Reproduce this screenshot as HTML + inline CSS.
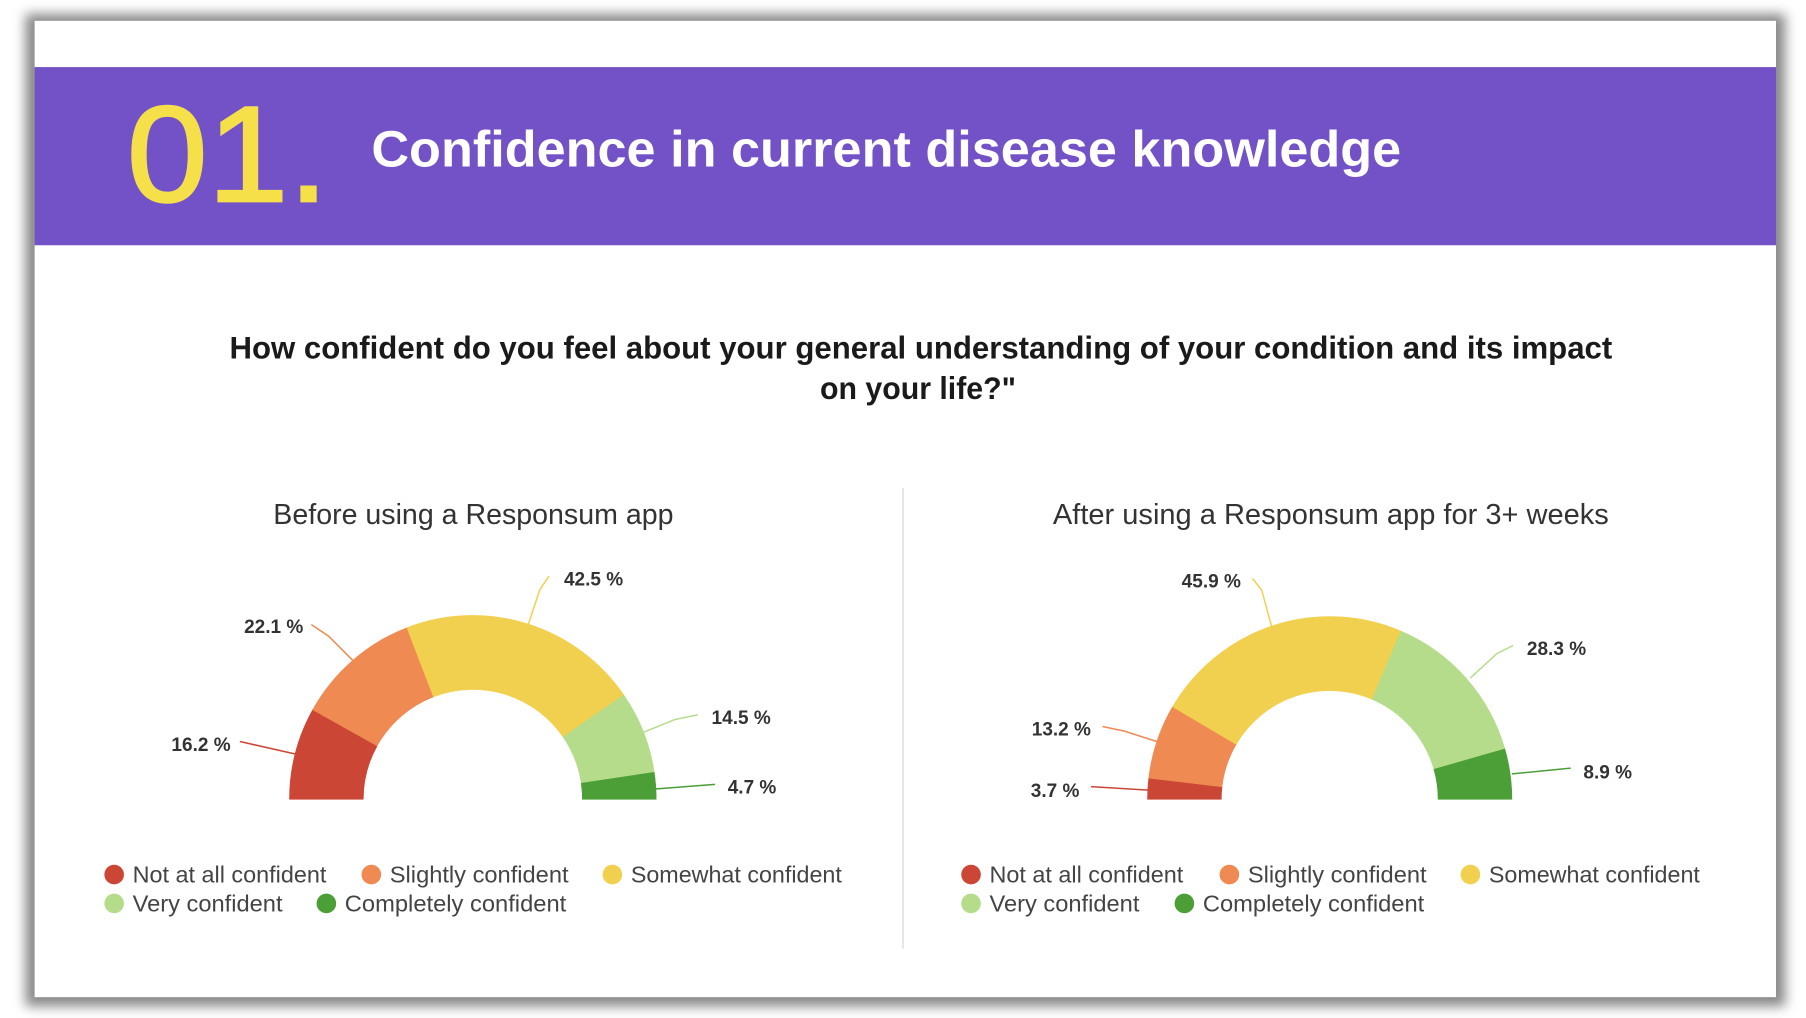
<!DOCTYPE html>
<html><head><meta charset="utf-8"><style>
html,body{margin:0;padding:0;background:#fff;width:1806px;height:1018px;overflow:hidden}
svg{display:block}
text{font-family:"Liberation Sans",sans-serif}
</style></head><body>
<svg id="s" width="1806" height="1018" viewBox="0 0 1566 880" preserveAspectRatio="none">
<defs><filter id="sh" x="-5%" y="-5%" width="110%" height="110%"><feGaussianBlur stdDeviation="5"/></filter></defs>
<rect x="0" y="0" width="1566" height="880" fill="#fff"/>
<rect x="22" y="12" width="1526" height="858" fill="#888" filter="url(#sh)"/>
<rect x="30" y="18" width="1510" height="844" fill="#fff"/>
<rect x="30" y="58" width="1510" height="154" fill="#7352C7"/>
<text x="110" y="174" font-size="118" fill="#F5E04A" stroke="#F5E04A" stroke-width="2" textLength="175" lengthAdjust="spacingAndGlyphs">01.</text>
<text x="322" y="144" font-size="44" font-weight="bold" fill="#fff" textLength="893" lengthAdjust="spacingAndGlyphs">Confidence in current disease knowledge</text>
<text x="199" y="310" font-size="27" font-weight="bold" fill="#1a1a1a" textLength="1199" lengthAdjust="spacingAndGlyphs">How confident do you feel about your general understanding of your condition and its impact</text>
<text x="711" y="345" font-size="27" font-weight="bold" fill="#1a1a1a" textLength="170" lengthAdjust="spacingAndGlyphs">on your life?"</text>
<line x1="783" y1="422" x2="783" y2="820" stroke="#e2e2e2" stroke-width="1.5"/>
<text x="237" y="453" font-size="25" fill="#333" textLength="347" lengthAdjust="spacingAndGlyphs">Before using a Responsum app</text>
<text x="913" y="453" font-size="25" fill="#333" textLength="482" lengthAdjust="spacingAndGlyphs">After using a Responsum app for 3+ weeks</text>
<g id="arcs"></g>
<g stroke-width="1.3" fill="none">
<line x1="208" y1="641" x2="257" y2="652" stroke="#CC4636"/>
<polyline points="270,540 285,550 307,572" stroke="#EE8A52"/>
<polyline points="476,498 468,510 458,540" stroke="#F2D04F"/>
<polyline points="605,618 585,622 558,633" stroke="#B5DC8A"/>
<line x1="620" y1="678" x2="568" y2="682" stroke="#4C9E36"/>
<polyline points="1086,500 1094,510 1103,543" stroke="#F2D04F"/>
<polyline points="1312,558 1298,565 1275,586" stroke="#B5DC8A"/>
<polyline points="956,628 975,632 1003,641" stroke="#EE8A52"/>
<line x1="946" y1="680" x2="996" y2="683" stroke="#CC4636"/>
<line x1="1362" y1="664" x2="1311" y2="669" stroke="#4C9E36"/>
</g>
<g font-size="16.5" font-weight="bold" fill="#333">
<text x="200" y="649" text-anchor="end">16.2 %</text>
<text x="263" y="547" text-anchor="end">22.1 %</text>
<text x="489" y="506">42.5 %</text>
<text x="617" y="626">14.5 %</text>
<text x="631" y="686">4.7 %</text>
<text x="1076" y="508" text-anchor="end">45.9 %</text>
<text x="1324" y="566">28.3 %</text>
<text x="946" y="636" text-anchor="end">13.2 %</text>
<text x="936" y="689" text-anchor="end">3.7 %</text>
<text x="1373" y="673">8.9 %</text>
</g>
<g font-size="20" fill="#444">
<circle cx="99" cy="756" r="8.5" fill="#CC4636"/><text x="115" y="763" textLength="168" lengthAdjust="spacingAndGlyphs">Not at all confident</text>
<circle cx="322" cy="756" r="8.5" fill="#EE8A52"/><text x="338" y="763" textLength="155" lengthAdjust="spacingAndGlyphs">Slightly confident</text>
<circle cx="531" cy="756" r="8.5" fill="#F2D04F"/><text x="547" y="763" textLength="183" lengthAdjust="spacingAndGlyphs">Somewhat confident</text>
<circle cx="99" cy="781" r="8.5" fill="#B5DC8A"/><text x="115" y="788" textLength="130" lengthAdjust="spacingAndGlyphs">Very confident</text>
<circle cx="283" cy="781" r="8.5" fill="#4C9E36"/><text x="299" y="788" textLength="192" lengthAdjust="spacingAndGlyphs">Completely confident</text>
<circle cx="842" cy="756" r="8.5" fill="#CC4636"/><text x="858" y="763" textLength="168" lengthAdjust="spacingAndGlyphs">Not at all confident</text>
<circle cx="1066" cy="756" r="8.5" fill="#EE8A52"/><text x="1082" y="763" textLength="155" lengthAdjust="spacingAndGlyphs">Slightly confident</text>
<circle cx="1275" cy="756" r="8.5" fill="#F2D04F"/><text x="1291" y="763" textLength="183" lengthAdjust="spacingAndGlyphs">Somewhat confident</text>
<circle cx="842" cy="781" r="8.5" fill="#B5DC8A"/><text x="858" y="788" textLength="130" lengthAdjust="spacingAndGlyphs">Very confident</text>
<circle cx="1027" cy="781" r="8.5" fill="#4C9E36"/><text x="1043" y="788" textLength="192" lengthAdjust="spacingAndGlyphs">Completely confident</text>
</g>
</svg>
<script>
var cols=["#CC4636","#EE8A52","#F2D04F","#B5DC8A","#4C9E36"];
function donut(cx,cy,R,r,vals){var g=document.getElementById("arcs"),c=0,out="";
vals.forEach(function(v,i){var a0=Math.PI*(1-c/100);c+=v;var a1=Math.PI*(1-c/100);
function p(rr,a){return (cx+rr*Math.cos(a)).toFixed(2)+","+(cy-rr*Math.sin(a)).toFixed(2);}
var d="M"+p(R,a0)+" A"+R+","+R+" 0 0 1 "+p(R,a1)+" L"+p(r,a1)+" A"+r+","+r+" 0 0 0 "+p(r,a0)+" Z";
out+='<path d="'+d+'" fill="'+cols[i]+'" stroke="'+cols[i]+'" stroke-width="0.5"/>';});
g.innerHTML+=out;}
donut(410,691,159,95,[16.2,22.1,42.5,14.5,4.7]);
donut(1153,691,158,94,[3.7,13.2,45.9,28.3,8.9]);
</script>
</body></html>
